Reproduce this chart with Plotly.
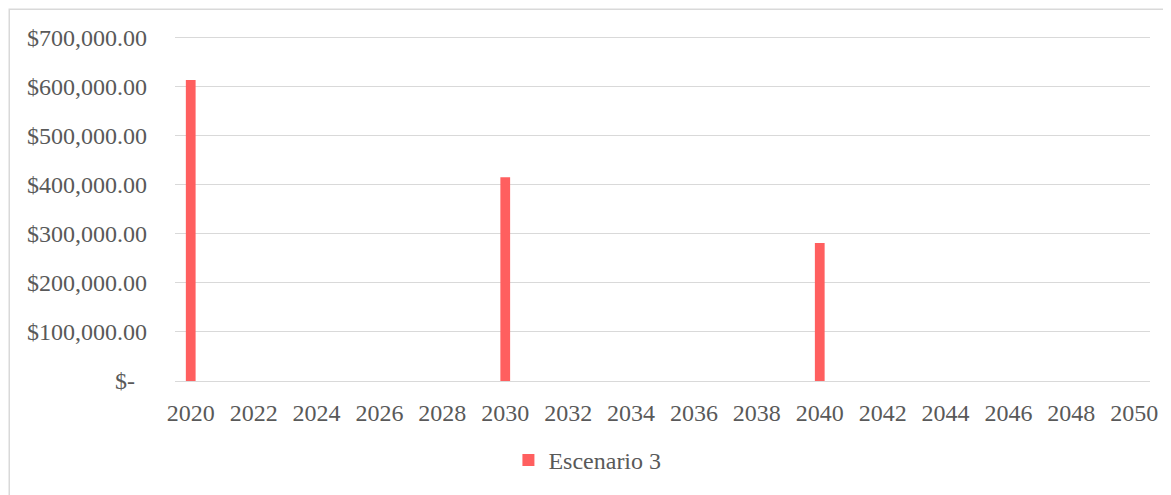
import plotly.graph_objects as go

# Escenario 3 values (only years with data)
years = [2020, 2030, 2040]
costs = [614000, 415500, 281500]

tick_years = list(range(2020, 2051, 2))
y_ticks = [0, 100000, 200000, 300000, 400000, 500000, 600000, 700000]
y_labels = ["$-\u00a0\u00a0", "$100,000.00", "$200,000.00", "$300,000.00",
            "$400,000.00", "$500,000.00", "$600,000.00", "$700,000.00"]

fig = go.Figure()
fig.add_trace(go.Bar(
    x=years, y=costs, name="Escenario 3",
    marker=dict(color="#FF5F5F", line=dict(width=0)),
    width=0.31,
))

# page body adds 8px margin, so the figure is 8px smaller than the window
fig.update_layout(
    width=1163, height=487,
    margin=dict(l=167, r=21, t=25, b=112),
    paper_bgcolor="white", plot_bgcolor="white",
    font=dict(family="Liberation Serif", size=24, color="#595959"),
    showlegend=True,
    legend=dict(orientation="h", x=0.423, xanchor="center", y=-0.228,
                yanchor="middle", font=dict(size=24), itemwidth=30),
    xaxis=dict(range=[2019.5, 2050.5], tickvals=tick_years,
               showgrid=False, showline=True, linecolor="#D9D9D9",
               linewidth=1, ticks="", ticklabelstandoff=10),
    yaxis=dict(range=[0, 710000], tickvals=y_ticks, ticktext=y_labels,
               showgrid=True, gridcolor="#D9D9D9", gridwidth=1,
               zeroline=False, ticks="", ticklabelstandoff=27),
    shapes=[dict(type="rect", xref="paper", yref="paper",
                 x0=-0.170, x1=1.03, y0=-0.35, y1=1.068,
                 line=dict(color="#D9D9D9", width=1.5), layer="below")],
)

fig.write_html("out.html")
